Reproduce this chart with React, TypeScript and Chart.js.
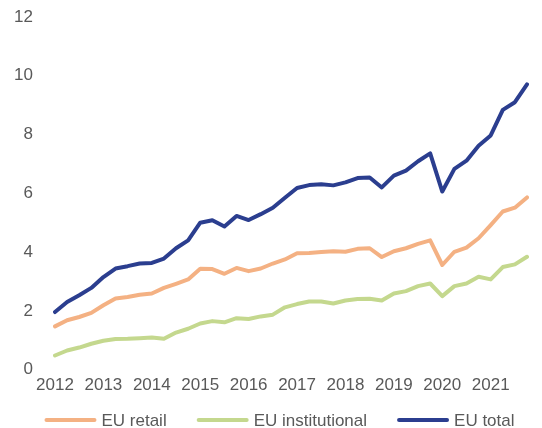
import React, { useEffect, useRef } from 'react';
import { Chart, registerables } from 'chart.js';

Chart.register(...registerables);

const years = ['2012', '2013', '2014', '2015', '2016', '2017', '2018', '2019', '2020', '2021'];
const quarters = ['Q1', 'Q2', 'Q3', 'Q4'];
const categories = years.flatMap((y) => quarters.map((q) => `${y} ${q}`));

const euRetail = [
  1.47, 1.68, 1.79, 1.93, 2.19, 2.42, 2.47, 2.55, 2.59, 2.78,
  2.92, 3.07, 3.43, 3.42, 3.26, 3.46, 3.35, 3.44, 3.61, 3.75,
  3.96, 3.97, 4.0, 4.03, 4.01, 4.11, 4.13, 3.83, 4.03, 4.13,
  4.28, 4.4, 3.56, 4.01, 4.15, 4.47, 4.92, 5.38, 5.51, 5.86,
];
const euInstitutional = [
  0.48, 0.65, 0.75, 0.88, 0.98, 1.04, 1.05, 1.07, 1.09, 1.05,
  1.26, 1.39, 1.57, 1.65, 1.61, 1.75, 1.72, 1.81, 1.87, 2.12,
  2.23, 2.32, 2.32, 2.25, 2.35, 2.4, 2.41, 2.35, 2.59, 2.67,
  2.84, 2.93, 2.5, 2.84, 2.93, 3.16, 3.07, 3.49, 3.58, 3.84,
];
const euTotal = [
  1.96, 2.3, 2.53, 2.78, 3.15, 3.44, 3.52, 3.61, 3.63, 3.78,
  4.13, 4.4, 5.0, 5.08, 4.87, 5.23, 5.09, 5.29, 5.51, 5.85,
  6.18, 6.28, 6.31, 6.27, 6.37, 6.52, 6.54, 6.2, 6.6, 6.77,
  7.09, 7.36, 6.06, 6.83, 7.11, 7.62, 7.97, 8.84, 9.1, 9.71,
];
const yMin = 0;
const yMax = 12;
const yStep = 2;

const seriesNames = ['EU retail', 'EU institutional', 'EU total'];
const seriesColors = ['#F4B183', '#C4D88E', '#2B3E8F'];

const FAMILY = "'Liberation Sans', Arial, Helvetica, sans-serif";
const FONT = { family: FAMILY, size: 17 };
const TEXT = '#595959';

const bottomLegend = {
  id: 'bottomLegend',
  afterDraw(chart: any) {
    const ctx = chart.ctx as CanvasRenderingContext2D;
    const lineLen = 52;
    const gapLineText = 5;
    const gapItems = 30;
    ctx.save();
    ctx.font = `17px ${FAMILY}`;
    const items = chart.data.datasets.map((ds: any) => ({
      label: ds.label as string,
      color: ds.borderColor as string,
      w: ctx.measureText(ds.label).width,
    }));
    const total =
      items.reduce((s: number, it: any) => s + lineLen + gapLineText + it.w, 0) + gapItems * (items.length - 1);
    let x = chart.width / 2 + 8.5 - total / 2;
    const y = chart.height - 8;
    ctx.textBaseline = 'middle';
    ctx.textAlign = 'left';
    for (const it of items) {
      ctx.strokeStyle = it.color;
      ctx.lineWidth = 4;
      ctx.lineCap = 'round';
      ctx.beginPath();
      ctx.moveTo(x + 2, y);
      ctx.lineTo(x + lineLen - 2, y);
      ctx.stroke();
      ctx.fillStyle = TEXT;
      ctx.fillText(it.label, x + lineLen + gapLineText, y + 1);
      x += lineLen + gapLineText + it.w + gapItems;
    }
    ctx.restore();
  },
};

export default function App() {
  const ref = useRef<HTMLCanvasElement | null>(null);

  useEffect(() => {
    if (!ref.current) return;
    const values = [euRetail, euInstitutional, euTotal];
    const chart = new Chart(ref.current, {
      type: 'line',
      data: {
        labels: categories,
        datasets: values.map((d, i) => ({
          label: seriesNames[i],
          data: d,
          borderColor: seriesColors[i],
          backgroundColor: seriesColors[i],
          borderWidth: 4,
          pointRadius: 0,
          pointHoverRadius: 0,
          tension: 0,
          borderJoinStyle: 'round' as const,
          borderCapStyle: 'round' as const,
          fill: false,
        })),
      },
      plugins: [bottomLegend],
      options: {
        responsive: false,
        animation: false,
        maintainAspectRatio: false,
        layout: { padding: { left: 0, right: 15, top: 17, bottom: 26 } },
        plugins: {
          tooltip: { enabled: false },
          legend: { display: false },
        },
        scales: {
          x: {
            type: 'category',
            offset: false,
            grid: { display: false, drawTicks: false },
            border: { display: false },
            ticks: {
              autoSkip: false,
              maxRotation: 0,
              minRotation: 0,
              padding: 6,
              color: TEXT,
              font: FONT,
              callback: (_v: any, i: number) => (i % 4 === 0 ? years[i / 4] : ''),
            },
            afterFit: (s: any) => {
              s.paddingLeft = 0;
              s.paddingRight = 0;
            },
          },
          y: {
            min: yMin,
            max: yMax,
            grid: { display: false, drawTicks: false },
            border: { display: false },
            ticks: { stepSize: yStep, padding: 22, color: TEXT, font: FONT },
            afterFit: (s: any) => {
              s.width = 55;
              s.paddingTop = 0;
              s.paddingBottom = 0;
            },
          },
        },
      },
    });
    return () => chart.destroy();
  }, []);

  return (
    <div style={{ position: 'fixed', left: 0, top: 0, width: 542, height: 428, background: '#fff' }}>
      <canvas ref={ref} width={542} height={428} style={{ width: 542, height: 428 }} />
    </div>
  );
}
